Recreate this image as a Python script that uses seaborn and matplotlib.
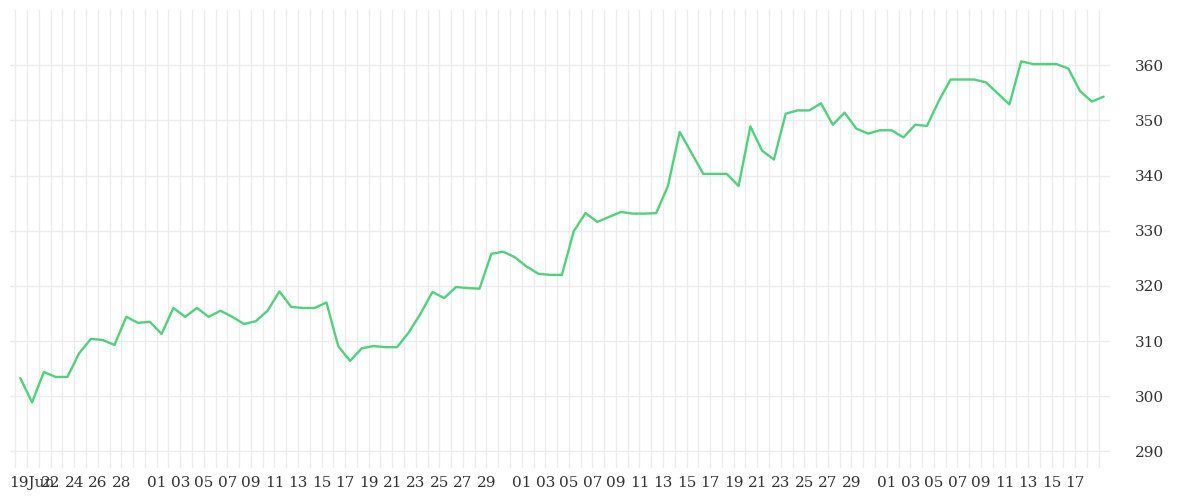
import pandas as pd
import seaborn as sns
import matplotlib.pyplot as plt
import matplotlib.dates as mdates
import matplotlib.transforms as mtransforms

# daily values, 19 Jun -> 19 Sep
values = [303.3, 298.9, 304.4, 303.5, 303.5, 307.8, 310.4, 310.2, 309.3, 314.4,
          313.3, 313.5, 311.3, 316.0, 314.4, 316.0, 314.4, 315.5, 314.4, 313.1,
          313.6, 315.5, 319.0, 316.2, 316.0, 316.0, 317.0, 309.1, 306.4, 308.7,
          309.1, 308.9, 308.9, 311.6, 315.0, 318.9, 317.8, 319.8, 319.6, 319.5,
          325.8, 326.2, 325.2, 323.5, 322.2, 322.0, 322.0, 329.9, 333.2, 331.6,
          332.5, 333.4, 333.1, 333.1, 333.2, 338.1, 347.9, 344.1, 340.3, 340.3,
          340.3, 338.1, 348.9, 344.5, 342.9, 351.2, 351.8, 351.8, 353.1, 349.2,
          351.4, 348.5, 347.6, 348.2, 348.2, 346.9, 349.2, 349.0, 353.5, 357.4,
          357.4, 357.4, 356.9, 354.9, 352.9, 360.7, 360.2, 360.2, 360.2, 359.4,
          355.3, 353.4, 354.3]
dates = pd.date_range("2023-06-19", periods=len(values), freq="D")
y_ticks = [290, 300, 310, 320, 330, 340, 350, 360]

df = pd.DataFrame({"date": dates + pd.Timedelta(hours=10), "value": values})

sns.set_theme(style="white")
plt.rcParams['font.family'] = ['DejaVu Serif']

fig = plt.figure(figsize=(12, 5), dpi=100)
ax = fig.add_axes([10 / 1200, 32 / 500, 1100 / 1200, 458 / 500])
sns.lineplot(data=df, x="date", y="value", color="#4cd37b", linewidth=1.7, ax=ax)

ax.set_xlim(pd.Timestamp("2023-06-18 13:00"), pd.Timestamp("2023-09-19 23:00"))
ax.set_ylim(287, 370)

# x labels: every 2 days, plus month starts
tick_dates, tick_labels = [], []
for d in pd.date_range("2023-06-19", "2023-09-17", freq="D"):
    if d == pd.Timestamp("2023-06-19"):
        tick_dates.append(d); tick_labels.append("19Jun")
    elif d >= pd.Timestamp("2023-06-22") and d.day <= 29 and d.day % 2 == (0 if d.month == 6 else 1):
        tick_dates.append(d); tick_labels.append(f"{d.day:02d}")
ax.set_xticks(tick_dates)
ax.set_xticklabels(tick_labels)
ax.xaxis.set_minor_locator(mdates.DayLocator())

ax.set_yticks(y_ticks)
ax.yaxis.tick_right()
ax.tick_params(axis="both", which="both", length=0, labelsize=11, labelcolor="#333333")
ax.tick_params(axis="y", pad=18)
ax.tick_params(axis="x", pad=6)

first = ax.get_xticklabels()[0]
first.set_ha("left")
first.set_transform(first.get_transform() + mtransforms.ScaledTranslation(-6 / 100, 0, fig.dpi_scale_trans))

ax.grid(True, which="both", axis="x", color="#ececec", linewidth=1)
ax.grid(True, which="major", axis="y", color="#ececec", linewidth=1)
ax.set_axisbelow(True)
ax.set_xlabel("")
ax.set_ylabel("")
for s in ax.spines.values():
    s.set_visible(False)

fig.savefig("out.png", dpi=100)
